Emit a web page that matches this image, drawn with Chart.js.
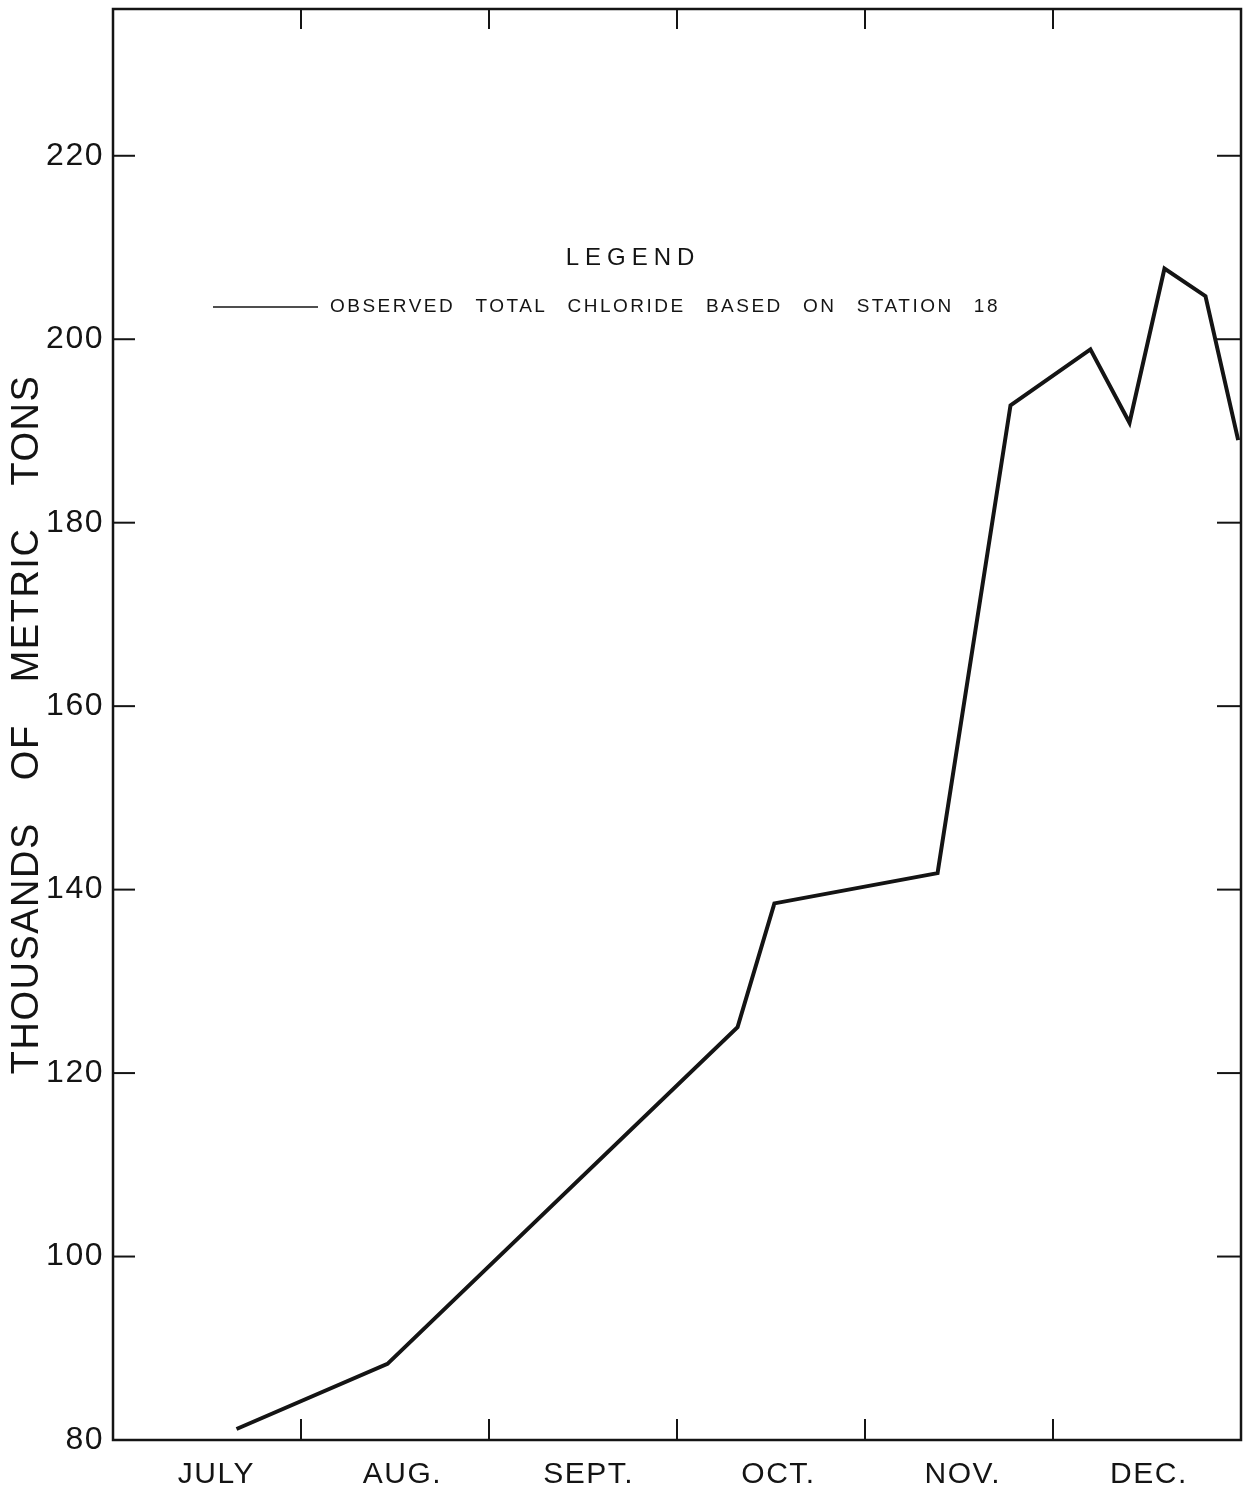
<!DOCTYPE html>
<html lang="en">
  <head>
    <meta charset="UTF-8" />
    <title>Observed total chloride</title>
    <style>
      body { margin: 0; background: #fff; }
      canvas { display: block; }
    </style>
  </head>
  <body>
    <canvas id="myChart" width="1248" height="1490"></canvas>
    <script src="https://cdn.jsdelivr.net/npm/chart.js"></script>
    <script>
      // months on the x axis, values in month units from start of July
      const months = ["JULY", "AUG.", "SEPT.", "OCT.", "NOV.", "DEC."];
      const monthEdges = [1, 2, 3, 4, 5];
      const monthLabelPos = [0.55, 1.54, 2.53, 3.54, 4.52, 5.51];

      // observed total chloride, thousands of metric tons
      const monthPos = [0.657, 1.46, 3.322, 3.518, 4.386, 4.774, 5.199, 5.407, 5.593, 5.811, 5.985];
      const chlorideK = [81.2, 88.3, 125.0, 138.5, 141.8, 192.8, 198.9, 190.9, 207.7, 204.7, 189.0];

      const yTickValues = [80, 100, 120, 140, 160, 180, 200, 220];

      const legendTitle = "LEGEND";
      const legendText = "OBSERVED TOTAL CHLORIDE BASED ON STATION 18";

      const ink = "#141414";
      const fontName = "'Liberation Sans', Arial, sans-serif";

      const points = monthPos.map((m, i) => ({ x: m, y: chlorideK[i] }));

      function linha(ctx, x1, y1, x2, y2) {
        ctx.beginPath();
        ctx.moveTo(x1, y1);
        ctx.lineTo(x2, y2);
        ctx.stroke();
      }

      // spread the lettering a little, like the stencil text of the original
      function textoEspacado(ctx, txt, x, y, largura) {
        ctx.wordSpacing = "0px";
        const natural = ctx.measureText(txt).width;
        const espacos = txt.split(" ").length - 1;
        const extra = espacos > 0 ? (largura - natural) / espacos : 0;
        ctx.wordSpacing = Math.max(0, extra) + "px";
        ctx.fillText(txt, x, y);
      }

      const espacamento = {
        id: "espacamento",
        beforeDraw(chart) {
          chart.ctx.letterSpacing = "1.5px";
          chart.ctx.wordSpacing = "30px";
        },
      };

      const moldura = {
        id: "moldura",
        afterDraw(chart) {
          const { ctx, chartArea: a, scales } = chart;
          const x = scales.x;
          const y = scales.y;
          ctx.save();
          ctx.strokeStyle = ink;
          ctx.lineWidth = 2.5;
          ctx.strokeRect(a.left, a.top, a.right - a.left, a.bottom - a.top);

          // inward tick marks
          ctx.lineWidth = 2;
          monthEdges.forEach((v) => {
            const px = x.getPixelForValue(v);
            linha(ctx, px, a.bottom, px, a.bottom - 21);
            linha(ctx, px, a.top, px, a.top + 20);
          });
          yTickValues.forEach((v) => {
            if (v === yTickValues[0]) return;
            const py = y.getPixelForValue(v);
            linha(ctx, a.left, py, a.left + 22, py);
            linha(ctx, a.right, py, a.right - 24, py);
          });

          // legend
          ctx.fillStyle = ink;
          ctx.textBaseline = "middle";
          ctx.textAlign = "center";
          ctx.font = "24px " + fontName;
          ctx.letterSpacing = "6px";
          ctx.wordSpacing = "0px";
          ctx.fillText(legendTitle, a.left + 520, a.top + 249);

          ctx.lineWidth = 1.6;
          linha(ctx, a.left + 100, a.top + 298, a.left + 205, a.top + 298);
          ctx.textAlign = "left";
          ctx.font = "19px " + fontName;
          ctx.letterSpacing = "2.5px";
          textoEspacado(ctx, legendText, a.left + 217, a.top + 298, 670);
          ctx.restore();

          ctx.letterSpacing = "0px";
          ctx.wordSpacing = "0px";
        },
      };

      const config = {
        type: "line",
        data: {
          datasets: [
            {
              label: legendText,
              data: points,
              borderColor: ink,
              borderWidth: 4,
              pointRadius: 0,
              tension: 0,
              fill: false,
            },
          ],
        },
        options: {
          responsive: false,
          animation: false,
          layout: { padding: { top: 9, right: 7, left: 0, bottom: 0 } },
          plugins: {
            legend: { display: false },
            tooltip: { enabled: false },
          },
          scales: {
            x: {
              type: "linear",
              min: 0,
              max: 6,
              grid: { display: false, drawTicks: false },
              border: { display: false },
              afterBuildTicks: (s) => {
                s.ticks = monthLabelPos.map((v) => ({ value: v }));
              },
              afterFit: (s) => {
                s.height = 50;
                s.paddingLeft = 0;
                s.paddingRight = 0;
              },
              ticks: {
                autoSkip: false,
                maxRotation: 0,
                padding: 17,
                color: ink,
                font: { family: fontName, size: 30 },
                callback: (value, index) => months[index],
              },
            },
            y: {
              type: "linear",
              min: 80,
              max: 236,
              grid: { display: false, drawTicks: false },
              border: { display: false },
              afterBuildTicks: (s) => {
                s.ticks = yTickValues.map((v) => ({ value: v }));
              },
              afterFit: (s) => {
                s.width = 113;
                s.paddingTop = 0;
                s.paddingBottom = 0;
              },
              ticks: {
                padding: 9,
                color: ink,
                font: { family: fontName, size: 32 },
                callback: (value) => String(value),
              },
              title: {
                display: true,
                text: "THOUSANDS OF METRIC TONS",
                color: ink,
                padding: { top: 5, bottom: 0 },
                font: { family: fontName, size: 38 },
              },
            },
          },
        },
        plugins: [espacamento, moldura],
      };

      new Chart(document.getElementById("myChart"), config);
    </script>
  </body>
</html>
